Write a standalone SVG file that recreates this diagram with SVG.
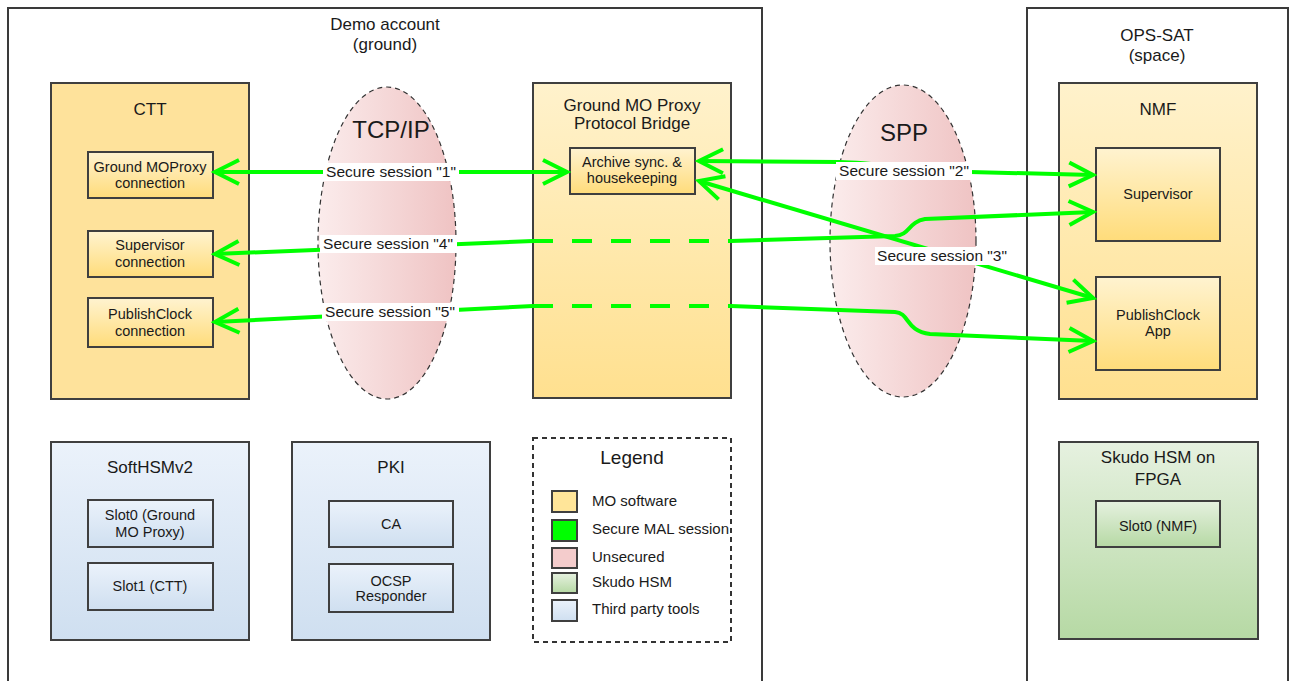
<svg xmlns="http://www.w3.org/2000/svg" width="1289" height="681" viewBox="0 0 1289 681">
<style>
text{font-family:"Liberation Sans",Arial,sans-serif;fill:#1a1a1a;text-anchor:middle}
.t17{font-size:17px}
.t14{font-size:14.5px}
.big{font-size:24px}
.lab{font-size:15.5px}
.leg{font-size:15px;text-anchor:start}
.cont{fill:none;stroke:#3a3a3a;stroke-width:2}
.box{stroke:#3f3f3f;stroke-width:2}
.ell{stroke:#333;stroke-width:1.2;stroke-dasharray:5,4}
.conn{fill:none;stroke:#00ff00;stroke-width:4}
.dash{stroke-dasharray:20,19}
.lbg{fill:#fff}
</style>
<defs>
<linearGradient id="gy" x1="0" y1="0" x2="0" y2="1"><stop offset="0" stop-color="#fff3d0"/><stop offset="1" stop-color="#ffdc7a"/></linearGradient>
<linearGradient id="gyl" x1="0" y1="0" x2="0" y2="1"><stop offset="0" stop-color="#fff2cc"/><stop offset="1" stop-color="#ffe08f"/></linearGradient>
<linearGradient id="gb" x1="0" y1="0" x2="0" y2="1"><stop offset="0" stop-color="#ebf2fb"/><stop offset="1" stop-color="#cfdff0"/></linearGradient>
<linearGradient id="gg" x1="0" y1="0" x2="0" y2="1"><stop offset="0" stop-color="#e6f1e0"/><stop offset="1" stop-color="#b6d9a4"/></linearGradient>
<linearGradient id="gp" x1="0" y1="0" x2="1" y2="0"><stop offset="0" stop-color="#fbecec"/><stop offset="1" stop-color="#efc3c3"/></linearGradient>
<marker id="ah" viewBox="0 0 30 30" markerUnits="userSpaceOnUse" markerWidth="30" markerHeight="30" refX="26" refY="15" orient="auto-start-reverse">
<path d="M2,3 L26,15 L2,27" fill="none" stroke="#00ff00" stroke-width="4"/>
</marker>
</defs>
<rect width="1289" height="681" fill="#fff"/>

<g id="demo-account">
<rect class="cont" x="8" y="8" width="754" height="690"/>
<text class="t17" x="385" y="30">Demo account</text>
<text class="t17" x="385" y="50">(ground)</text>
</g>
<g id="ops-sat">
<rect class="cont" x="1027" y="8" width="261" height="690"/>
<text class="t17" x="1157" y="41">OPS-SAT</text>
<text class="t17" x="1157" y="61">(space)</text>
</g>

<g id="ctt">
<rect class="box" x="51" y="83" width="198" height="316" fill="#fee29b"/>
<text class="t17" x="150" y="115">CTT</text>
</g>
<g id="ground-moproxy-connection">
<rect class="box" x="88" y="152" width="125" height="46" fill="url(#gy)"/>
<text class="t14" x="150" y="172">Ground MOProxy</text>
<text class="t14" x="150" y="188">connection</text>
</g>
<g id="supervisor-connection">
<rect class="box" x="88" y="231" width="125" height="46" fill="url(#gy)"/>
<text class="t14" x="150" y="250">Supervisor</text>
<text class="t14" x="150" y="267">connection</text>
</g>
<g id="publishclock-connection">
<rect class="box" x="88" y="298" width="125" height="49" fill="url(#gy)"/>
<text class="t14" x="150" y="319">PublishClock</text>
<text class="t14" x="150" y="336">connection</text>
</g>

<g id="tcpip">
<ellipse class="ell" cx="387" cy="243" rx="69" ry="156" fill="url(#gp)"/>
<text class="big" x="391" y="138">TCP/IP</text>
</g>

<g id="proxy-bridge">
<rect class="box" x="533" y="83" width="198" height="315" fill="url(#gyl)"/>
<text class="t17" x="632" y="111">Ground MO Proxy</text>
<text class="t17" x="632" y="129">Protocol Bridge</text>
</g>
<g id="archive">
<rect class="box" x="570" y="148" width="125" height="46" fill="url(#gy)"/>
<text class="t14" x="632" y="167">Archive sync. &amp;</text>
<text class="t14" x="632" y="183">housekeeping</text>
</g>

<g id="spp">
<ellipse class="ell" cx="903" cy="241" rx="73" ry="156" fill="url(#gp)"/>
<text class="big" x="904" y="141">SPP</text>
</g>

<g id="nmf">
<rect class="box" x="1059" y="83" width="198" height="316" fill="url(#gyl)"/>
<text class="t17" x="1158" y="115">NMF</text>
</g>
<g id="supervisor">
<rect class="box" x="1096" y="148" width="124" height="93" fill="url(#gy)"/>
<text class="t14" x="1158" y="199">Supervisor</text>
</g>
<g id="publishclock-app">
<rect class="box" x="1096" y="277" width="124" height="93" fill="url(#gy)"/>
<text class="t14" x="1158" y="320">PublishClock</text>
<text class="t14" x="1158" y="336">App</text>
</g>

<g id="softhsm">
<rect class="box" x="51" y="442" width="198" height="198" fill="url(#gb)"/>
<text class="t17" x="150" y="473">SoftHSMv2</text>
</g>
<g id="slot0-ground">
<rect class="box" x="88" y="500" width="125" height="47" fill="url(#gb)"/>
<text class="t14" x="150" y="520">Slot0 (Ground</text>
<text class="t14" x="150" y="537">MO Proxy)</text>
</g>
<g id="slot1-ctt">
<rect class="box" x="88" y="563" width="125" height="47" fill="url(#gb)"/>
<text class="t14" x="150" y="591">Slot1 (CTT)</text>
</g>

<g id="pki">
<rect class="box" x="292" y="442" width="198" height="198" fill="url(#gb)"/>
<text class="t17" x="391" y="473">PKI</text>
</g>
<g id="ca">
<rect class="box" x="329" y="501" width="124" height="46" fill="url(#gb)"/>
<text class="t14" x="391" y="529">CA</text>
</g>
<g id="ocsp">
<rect class="box" x="329" y="564" width="124" height="48" fill="url(#gb)"/>
<text class="t14" x="391" y="586">OCSP</text>
<text class="t14" x="391" y="601">Responder</text>
</g>

<g id="legend">
<rect x="533" y="438" width="198" height="204" fill="#fff" stroke="#333" stroke-width="2" stroke-dasharray="5,4"/>
<text x="632" y="464" style="font-size:19px">Legend</text>
<rect class="box" x="552" y="491" width="25" height="21" fill="#ffe599"/>
<text class="leg" x="592" y="506">MO software</text>
<rect class="box" x="552" y="520" width="25" height="21" fill="#00ff00"/>
<text class="leg" x="592" y="534">Secure MAL session</text>
<rect class="box" x="552" y="548" width="25" height="20" fill="#f4cccc"/>
<text class="leg" x="592" y="562">Unsecured</text>
<rect class="box" x="552" y="573" width="25" height="20" fill="url(#gg)"/>
<text class="leg" x="592" y="587">Skudo HSM</text>
<rect class="box" x="552" y="600" width="25" height="21" fill="url(#gb)"/>
<text class="leg" x="592" y="614">Third party tools</text>
</g>

<g id="skudo">
<rect class="box" x="1059" y="442" width="199" height="197" fill="url(#gg)"/>
<text class="t17" x="1158" y="463">Skudo HSM on</text>
<text class="t17" x="1158" y="485">FPGA</text>
</g>
<g id="slot0-nmf">
<rect class="box" x="1096" y="501" width="124" height="46" fill="url(#gg)"/>
<text class="t14" x="1158" y="531">Slot0 (NMF)</text>
</g>

<g id="connectors">
<path class="conn" d="M215,172 L567,172" marker-start="url(#ah)" marker-end="url(#ah)"/>
<path class="conn" d="M699,161 L840,162 C880,163 920,171 970,172 L1093,175" marker-start="url(#ah)" marker-end="url(#ah)"/>
<path class="conn" d="M699,181 L1093,298" marker-start="url(#ah)" marker-end="url(#ah)"/>
<path class="conn" d="M533,241 L215,254" marker-end="url(#ah)"/>
<path class="conn dash" d="M533,241 L731,241"/>
<path class="conn" d="M731,241 L895,236 C910,235 908,222 925,219 L1093,212" marker-end="url(#ah)"/>
<path class="conn" d="M533,306 L215,322" marker-end="url(#ah)"/>
<path class="conn dash" d="M533,306 L731,306"/>
<path class="conn" d="M731,306 L895,312 C910,313 905,331 930,334 L1093,341" marker-end="url(#ah)"/>

<rect class="lbg" x="323" y="163" width="136" height="18"/>
<text class="lab" x="391" y="177">Secure session "1"</text>
<rect class="lbg" x="836" y="162" width="136" height="18"/>
<text class="lab" x="904" y="176">Secure session "2"</text>
<rect class="lbg" x="875" y="247" width="135" height="18"/>
<text class="lab" x="942" y="261">Secure session "3"</text>
<rect class="lbg" x="320" y="235" width="137" height="18"/>
<text class="lab" x="388" y="249">Secure session "4"</text>
<rect class="lbg" x="322" y="303" width="137" height="18"/>
<text class="lab" x="390" y="317">Secure session "5"</text>
</g>
</svg>
